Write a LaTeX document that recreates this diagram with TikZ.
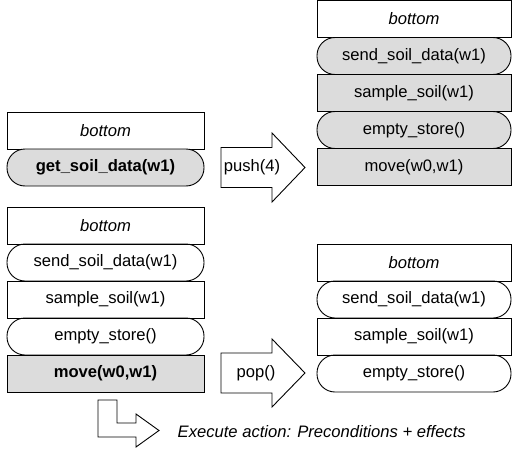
\documentclass[tikz,border=0pt]{standalone}
\usepackage{fontspec}
\setmainfont{Liberation Sans}
\definecolor{boxgray}{RGB}{220,220,220}
\begin{document}
\begin{tikzpicture}[x=1pt,y=-1pt,
  lbl/.style={font=\fontsize{16.6}{20}\selectfont, inner sep=0pt},
  sbox/.style={lbl, draw=black, line width=0.9pt, minimum height=37pt, rectangle},
  lw/.style={minimum width=197pt},
  rw/.style={minimum width=194pt},
  pill/.style={sbox, rounded corners=18pt},
  shade/.style={fill=boxgray},
  bigarrow/.style={draw=black, line width=0.9pt, fill=white}]
\useasboundingbox (0,0) rectangle (512,450);
% top-left stack
\node[sbox,lw] (a0) at (105.5,130.5) {\textit{bottom}};
\node[pill,lw,shade] (a1) at (105.5,167.5) {\textbf{get\_soil\_data(w1)}};
% top-right stack
\node[sbox,rw] (b0) at (414,19) {\textit{bottom}};
\node[pill,rw,shade] (b1) at (414,56) {send\_soil\_data(w1)};
\node[sbox,rw,shade] (b2) at (414,93) {sample\_soil(w1)};
\node[pill,rw,shade] (b3) at (414,130) {empty\_store()};
\node[sbox,rw,shade] (b4) at (414,167) {move(w0,w1)};
% lower-left stack
\node[sbox,lw] (c0) at (105.5,225.5) {\textit{bottom}};
\node[pill,lw] (c1) at (105.5,262.5) {send\_soil\_data(w1)};
\node[sbox,lw] (c2) at (105.5,299.5) {sample\_soil(w1)};
\node[pill,lw] (c3) at (105.5,336.5) {empty\_store()};
\node[sbox,lw,shade] (c4) at (105.5,373.5) {\textbf{move(w0,w1)}};
% lower-right stack
\node[sbox,rw] (d0) at (414,262.5) {\textit{bottom}};
\node[pill,rw] (d1) at (414,299.5) {send\_soil\_data(w1)};
\node[sbox,rw] (d2) at (414,336.5) {sample\_soil(w1)};
\node[pill,rw] (d3) at (414,373.5) {empty\_store()};
% push arrow
\draw[bigarrow] (221,147.5) -- (272,147.5) -- (272,133) -- (305,167.5) -- (272,202) -- (272,187.5) -- (221,187.5) -- cycle;
\node[lbl] (push) at (252,167.5) {push(4)};
% pop arrow
\draw[bigarrow] (221,353) -- (272,353) -- (272,339) -- (305,373) -- (272,407) -- (272,393) -- (221,393) -- cycle;
\node[lbl] (pop) at (256,373) {pop()};
% execute arrow
\draw[bigarrow] (98,400) -- (117,400) -- (117,423) -- (136,423) -- (136,414) -- (159,430.5) -- (136,447) -- (136,437) -- (98,437) -- cycle;
\node[lbl, anchor=west] (exec) at (177.5,432) {\textit{Execute action: Preconditions + effects}};
\end{tikzpicture}
\end{document}
